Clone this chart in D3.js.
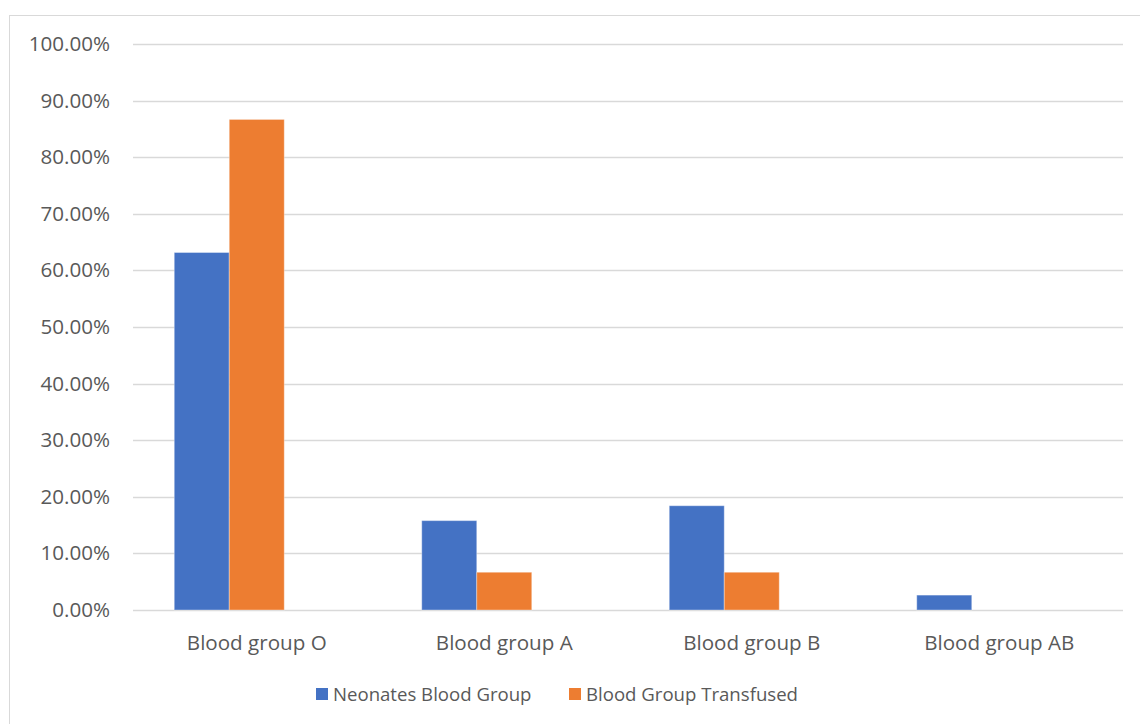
<!DOCTYPE html>
<html>
<head>
<meta charset="utf-8">
<script src="https://cdn.jsdelivr.net/npm/d3@7"></script>
<style>
  html, body { margin: 0; padding: 0; background: #fff; }
  svg { display: block; }
  text { font-family: "Open Sans", "Noto Sans", sans-serif; fill: #595959; }
</style>
</head>
<body>
<svg id="chart" width="1140" height="724"></svg>
<script>
// Blood groups of neonates vs. blood group of the transfused units
const categories = ["Blood group O", "Blood group A", "Blood group B", "Blood group AB"];
const seriesNames = ["Neonates Blood Group", "Blood Group Transfused"];
const neonates = [63.16, 15.79, 18.42, 2.63];
const transfused = [86.67, 6.67, 6.67, 0];
const yTicks = [0, 10, 20, 30, 40, 50, 60, 70, 80, 90, 100];
const colors = ["#4472C4", "#ED7D31"];

const svg = d3.select("#chart");
const W = 1140, H = 724;
const axisFont = 20.6;
const legendFont = 18.6;

// outer chart frame
svg.append("rect")
  .attr("x", 9.5).attr("y", 15.5)
  .attr("width", W).attr("height", H)
  .attr("fill", "#fff").attr("stroke", "#d9d9d9").attr("stroke-width", 1);

const plot = { left: 133, right: 1123, top: 44, bottom: 610 };

const x0 = d3.scaleBand().domain(categories)
  .range([plot.left, plot.right]).paddingInner(0).paddingOuter(0);

// each cluster reserves three column slots (the third one is an unused column)
const slots = [...seriesNames, "spare"];
const gap = 0.5;
const x1 = d3.scaleBand().domain(slots)
  .range([0, x0.bandwidth() / (1 + gap)]);
const clusterOffset = (x0.bandwidth() - x1.range()[1]) / 2;

const y = d3.scaleLinear().domain([0, 100]).range([plot.bottom, plot.top]);

// gridlines
svg.append("g")
  .selectAll("line")
  .data(yTicks)
  .join("line")
  .attr("x1", plot.left).attr("x2", plot.right)
  .attr("y1", d => Math.round(y(d)) + 0.5).attr("y2", d => Math.round(y(d)) + 0.5)
  .attr("stroke", "#d9d9d9").attr("stroke-width", 1.5);

// y axis labels
const yAxis = d3.axisLeft(y).tickValues(yTicks)
  .tickFormat(d => d.toFixed(2) + "%").tickSize(0).tickPadding(23);
const gy = svg.append("g").attr("transform", `translate(${plot.left},0)`).call(yAxis);
gy.select(".domain").remove();
gy.selectAll("text")
  .attr("font-family", "'Open Sans', 'Noto Sans', sans-serif")
  .attr("font-size", axisFont).attr("fill", "#595959");

// bars
const rows = categories.map((c, i) => ({ cat: c, vals: [neonates[i], transfused[i]] }));
const groups = svg.append("g").selectAll("g")
  .data(rows)
  .join("g")
  .attr("transform", d => `translate(${x0(d.cat) + clusterOffset},0)`);

groups.selectAll("rect")
  .data(d => d.vals.map((v, k) => ({ key: seriesNames[k], v, k })))
  .join("rect")
  .attr("x", d => x1(d.key))
  .attr("width", x1.bandwidth())
  .attr("y", d => y(d.v))
  .attr("height", d => y(0) - y(d.v))
  .attr("fill", d => colors[d.k])
  .attr("stroke", d => d.v > 0 ? "rgba(255,255,255,0.35)" : "none")
  .attr("stroke-width", 1);

// category labels
const xAxis = d3.axisBottom(x0).tickSize(0).tickPadding(25);
const gx = svg.append("g").attr("transform", `translate(0,${plot.bottom})`).call(xAxis);
gx.select(".domain").remove();
gx.selectAll("text")
  .attr("font-family", "'Open Sans', 'Noto Sans', sans-serif")
  .attr("font-size", axisFont).attr("fill", "#595959");

// legend
const legendItems = [
  { name: seriesNames[0], color: colors[0], x: 316 },
  { name: seriesNames[1], color: colors[1], x: 569 }
];
const lg = svg.append("g").selectAll("g")
  .data(legendItems)
  .join("g")
  .attr("transform", d => `translate(${d.x},688)`);
lg.append("rect").attr("width", 12).attr("height", 12).attr("fill", d => d.color);
lg.append("text")
  .attr("x", 17).attr("y", 6).attr("dy", "0.35em")
  .attr("font-size", legendFont)
  .text(d => d.name);
</script>
</body>
</html>
